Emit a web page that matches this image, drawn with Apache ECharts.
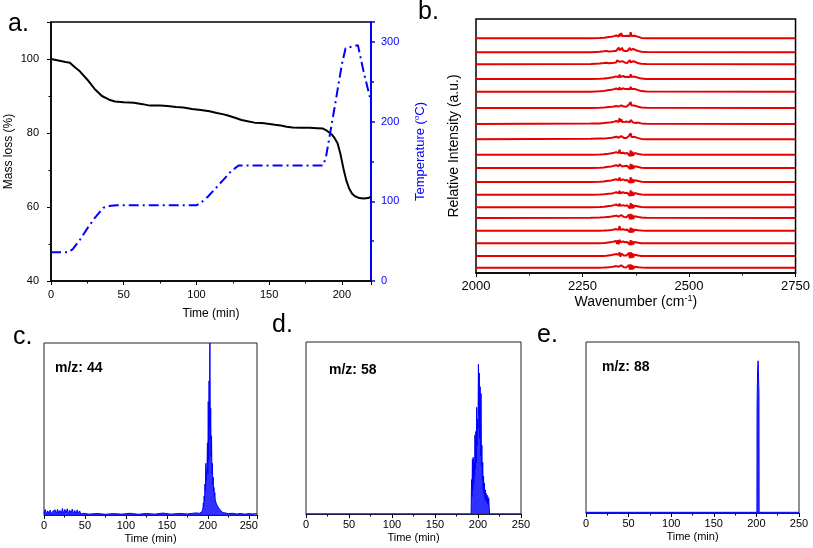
<!DOCTYPE html>
<html><head><meta charset="utf-8">
<script src="https://cdn.jsdelivr.net/npm/echarts@6/dist/echarts.min.js"></script>
<style>html,body{margin:0;padding:0;background:#fff}#c{width:813px;height:548px}</style>
</head><body><div id="c"></div>
<script>
// ---- Panel a: TGA ----
const massTime = [0, 5, 10, 13, 16, 20, 25, 30, 35, 40, 44, 50, 57, 63, 68, 75, 80, 86, 91, 97, 103, 109, 114, 118, 121, 126, 131, 136, 140, 145, 149, 154, 158, 162, 166, 172, 178, 183, 187, 189, 191, 193, 195, 197, 199, 201, 203, 205, 207, 209, 212, 215, 218, 220];
const massVal = [100, 99.6, 99.2, 99.0, 97.9, 96.6, 94.4, 91.9, 90.0, 89.0, 88.5, 88.3, 88.2, 87.8, 87.4, 87.4, 87.3, 87.0, 86.9, 86.5, 86.2, 85.9, 85.4, 85.1, 84.8, 84.2, 83.5, 83.1, 82.8, 82.7, 82.5, 82.2, 82.0, 81.7, 81.5, 81.4, 81.4, 81.3, 81.2, 80.8, 80.2, 79.6, 78.6, 77.2, 74.3, 70.5, 67.2, 65.0, 63.6, 62.9, 62.4, 62.3, 62.4, 62.8];
const tempTime = [0, 12, 15, 20, 25, 30, 36, 40, 45, 60, 80, 100, 103, 108, 112, 118, 124, 129, 150, 170, 187, 189, 195, 200, 202.5, 211, 215, 220];
const tempVal = [36, 36, 40, 52, 66, 79, 92, 94, 95, 95, 95, 95, 98, 106, 114, 126, 138, 145, 145, 145, 145, 155, 218, 272, 292, 296, 262, 225];

// ---- Panel b: FTIR spectra (top trace first) ----
const wavenumbers = [2000, 2270, 2290, 2300, 2306, 2311, 2315, 2318, 2321, 2324, 2327, 2329, 2331, 2333, 2335, 2337, 2339, 2341, 2343, 2345, 2347, 2350, 2353, 2355, 2357, 2359, 2361, 2363, 2365, 2367, 2369, 2372, 2376, 2381, 2388, 2400, 2750];
const traceOffsets = [234.7, 220.7, 208.7, 194, 181.3, 165, 149, 133.7, 118.3, 105, 91, 78.3, 65.7, 55, 42.3, 29.7, 17, 5.3];
const spectra = [
  [0,0,0.2,0.5,0.9,1.2,0.8,1.6,1.0,2.2,1.2,2.8,1.4,3.6,1.8,4.6,2.0,5.2,2.4,3.8,1.6,2.4,1.2,2.6,1.6,3.8,2.0,6.2,2.2,4.2,1.4,2.6,1.0,1.4,0.4,0,0],
  [0,0,0.6,1.0,1.4,0.8,1.6,1.0,2.0,1.2,2.4,1.4,3.0,1.6,4.8,2.0,3.6,2.2,4.4,1.8,3.0,1.4,2.4,1.2,2.8,1.6,4.4,2.2,3.6,1.8,3.4,1.6,2.0,1.2,0.6,0.2,0],
  [0,0.3,0.8,1.2,1.6,1.0,2.0,1.4,2.6,1.6,3.2,1.8,4.0,2.2,4.6,2.4,3.8,2.0,3.2,1.8,2.6,1.6,2.2,1.4,3.0,1.8,4.2,2.0,3.8,1.6,3.0,1.4,2.0,1.0,0.5,0.2,0],
  [0,0,0.2,0.4,0.8,1.0,0.6,1.4,0.8,2.0,1.0,2.6,1.2,3.2,1.6,4.4,1.8,3.6,2.0,3.0,1.4,2.0,1.0,2.2,1.4,3.2,1.8,4.6,2.0,3.6,1.2,2.4,0.8,1.2,0.4,0,0],
  [0,0,0.4,0.8,1.2,1.6,1.0,2.0,1.2,2.6,1.4,3.2,1.6,3.8,2.0,4.4,2.2,3.8,2.0,3.4,1.8,2.6,1.4,2.8,1.8,3.6,2.4,4.8,2.6,4.0,1.8,2.8,1.2,1.6,0.6,0.2,0],
  [0,0,0.2,0.4,0.7,1.0,0.7,1.2,0.9,1.6,1.1,2.0,1.2,2.2,1.4,2.4,1.5,2.6,1.6,2.4,1.4,2.0,1.2,2.2,1.6,3.4,2.2,6.0,2.6,3.6,1.6,2.4,1.0,1.2,0.5,0.2,0],
  [0,0.4,0.6,0.9,1.2,1.4,1.0,1.8,1.2,2.4,1.4,3.0,1.6,4.0,2.0,5.8,2.4,4.6,2.0,3.4,1.6,2.2,1.2,2.4,1.4,3.0,1.8,4.0,2.0,3.4,1.4,2.4,1.0,1.4,0.6,0.2,0],
  [0,0.5,0.8,0.9,1.1,1.3,0.9,1.6,1.0,2.0,1.2,2.6,1.4,3.0,1.6,3.6,1.8,3.2,1.8,2.8,1.4,2.2,1.2,2.6,1.6,3.4,2.0,6.0,2.4,3.8,1.4,2.4,0.9,1.2,0.4,0.1,0],
  [0,0,0.2,0.4,0.8,1.0,0.6,1.4,0.8,2.0,1.0,2.6,1.2,3.4,1.6,5.0,1.4,3.0,1.2,2.0,0.8,1.2,0.6,1.8,1.0,3.2,-1.4,4.2,-1.6,3.0,-0.8,1.6,0.4,0.8,0.2,0,0],
  [0,0,0.3,0.5,0.9,1.2,0.8,1.6,1.0,2.2,1.2,2.8,1.4,3.2,1.6,3.8,1.8,3.4,1.6,2.8,1.2,2.0,1.0,2.2,1.2,3.4,-1.0,4.0,-1.2,3.2,-0.6,1.8,0.6,1.0,0.3,0,0],
  [0,0,0.3,0.6,1.0,1.3,0.9,1.6,1.0,2.2,1.2,2.8,1.4,3.6,1.8,4.4,1.6,3.6,1.4,2.6,1.0,1.6,0.8,2.0,1.2,3.6,-0.8,4.8,-1.2,3.0,-0.6,1.8,0.6,1.0,0.3,0,0],
  [0,0,0.2,0.4,0.7,1.0,0.6,1.3,0.8,1.8,1.0,2.4,1.2,3.0,1.4,3.8,1.4,3.2,1.2,2.4,0.9,1.6,0.8,2.0,1.2,3.2,-1.2,4.4,-1.4,3.0,-0.8,1.6,0.5,0.8,0.2,0,0],
  [0,0,0.3,0.5,0.9,1.2,0.8,1.5,0.9,2.2,1.1,2.8,1.3,3.4,1.5,3.6,1.4,3.0,1.2,2.2,0.9,1.4,0.7,2.0,1.2,3.4,-1.0,4.2,-1.2,3.0,-0.6,1.6,0.5,0.9,0.3,0,0],
  [0,0.3,0.5,0.7,0.9,1.1,0.8,1.4,0.9,1.9,1.1,2.4,1.2,3.0,1.4,3.4,1.4,3.0,1.2,2.2,0.9,1.6,0.8,2.0,1.2,3.4,-1.2,4.2,-1.4,3.2,-0.8,1.8,0.6,1.0,0.4,0.3,0],
  [0,0,0,0.1,0.3,0.5,0.3,0.8,0.5,1.2,0.7,1.6,0.8,2.2,1.0,4.6,0.8,2.2,0.6,1.4,0.4,0.8,-0.6,1.2,0.6,2.4,-1.6,3.0,-2.0,2.2,-1.2,1.0,-0.4,0.4,0.1,0,0],
  [0,0,0,0.2,0.5,0.8,0.5,1.2,0.7,1.8,0.9,2.4,-0.8,3.2,-1.0,3.6,1.0,2.8,0.8,1.8,0.6,1.0,0.4,1.4,0.8,2.8,-1.6,3.2,-1.8,2.4,-1.0,1.2,0.3,0.5,0.1,0,0],
  [0,0,0,0.1,0.3,0.6,0.4,1.0,0.6,1.4,0.8,2.0,1.0,2.6,1.2,3.6,-0.8,2.6,0.8,1.6,0.5,1.0,0.4,1.6,0.8,3.2,-2.0,3.8,-2.2,2.8,-1.2,1.2,-0.4,0.5,0.1,0,0],
  [0,0,0,0.1,0.2,0.4,0.3,0.8,0.5,1.2,0.6,1.6,0.8,2.2,1.0,3.0,-0.8,2.4,0.7,1.4,0.4,0.9,0.3,1.4,0.6,2.8,-1.8,3.2,-2.0,2.4,-1.2,1.0,-0.4,0.4,0.1,0,0]
];

// ---- Panel c: m/z 44 ----
const cTime = [0, 1.5, 3, 4.5, 6, 7.5, 9, 10.5, 12, 13.5, 15, 16.5, 18, 19.5, 21, 22.5, 24, 25.5, 27, 28.5, 30, 31.5, 33, 34.5, 36, 37.5, 39, 40.5, 42, 43.5, 45, 48, 55, 65, 75, 85, 95, 105, 115, 125, 135, 145, 155, 165, 175, 185, 190,
  192, 193, 194, 194.5, 195, 195.5, 196, 196.5, 197, 197.5, 198, 198.5, 199, 199.5, 200, 200.5, 201, 201.5, 202, 202.5, 203, 203.5, 204, 204.5, 205, 205.5, 206, 206.5, 207, 207.5, 208, 208.5, 209, 209.5, 210, 211, 212, 213, 214, 216, 218, 220,
  225, 230, 235, 240, 245, 250, 255, 260];
const cVal = [1.0, 3.2, 0.6, 2.4, 0.8, 2.8, 0.5, 2.0, 1.2, 3.0, 0.6, 3.4, 1.0, 2.6, 0.8, 3.8, 0.7, 3.2, 1.2, 3.6, 0.6, 2.8, 1.0, 3.4, 0.8, 2.6, 0.6, 3.0, 0.9, 2.4, 0.5, 1.0, 0.5, 0.9, 0.4, 0.8, 0.5, 1.0, 0.4, 0.9, 0.5, 1.1, 0.5, 0.9, 0.6, 1.2, 1.0,
  1.2, 2, 4, 7, 5, 11, 8, 18, 14, 30, 20, 24, 28, 42, 24, 66, 32, 78, 50, 100, 44, 62, 34, 46, 24, 30, 18, 22, 14, 16, 11, 13, 9, 10, 7, 6, 5, 4, 3.5, 2.5, 1.5, 1.2,
  0.8, 1.0, 0.6, 0.9, 0.5, 0.8, 0.6, 0.8];

// ---- Panel d: m/z 58 ----
const dTime = [0, 192, 192.5, 193, 193.5, 194, 194.5, 195, 195.5, 196, 196.5, 197, 197.5, 198, 198.5, 199, 199.5, 200, 200.5, 201, 201.5, 202, 202.5, 203, 203.5, 204, 204.5, 205, 205.5, 206, 206.5, 207, 207.5, 208, 208.5, 209, 209.5, 210, 210.5, 211, 211.5, 212, 212.5, 213, 213.5, 250];
const dVal = [0, 0, 20, 10, 32, 14, 33, 18, 30, 22, 46, 26, 48, 30, 62, 40, 55, 50, 87, 58, 82, 44, 74, 34, 70, 28, 40, 20, 30, 14, 22, 12, 18, 9, 14, 8, 12, 7, 11, 6, 10, 5, 9, 4, 0, 0];

// ---- Panel e: m/z 88 ----
const eTime = [0, 200.6, 200.8, 201.4, 202.0, 202.6, 203.0, 203.2, 250];
const eVal = [0.4, 0.4, 64, 83, 89, 78, 70, 0.4, 0.4];

const FONT = '"Liberation Sans", Arial, sans-serif';
const chart = echarts.init(document.getElementById('c'), null, {renderer: 'canvas'});

function xAx(grid, min, max, opts) {
  return Object.assign({
    type: 'value', gridIndex: grid, min: min, max: max, interval: 50,
    axisLine: {show: true, onZero: false, lineStyle: {color: '#000', width: 1.5}},
    axisTick: {show: true, length: 4, lineStyle: {color: '#000', width: 1}},
    minorTick: {show: true, splitNumber: 2, length: 2.5, lineStyle: {color: '#000', width: 1}},
    axisLabel: {color: '#000', fontSize: 11, fontFamily: FONT, margin: 6},
    splitLine: {show: false},
    name: 'Time (min)', nameLocation: 'middle', nameGap: 18,
    nameTextStyle: {color: '#000', fontSize: 11, fontFamily: FONT}
  }, opts || {});
}
function yHidden(grid, min, max, opts) {
  return Object.assign({
    type: 'value', gridIndex: grid, min: min, max: max,
    axisLine: {show: false}, axisTick: {show: false}, axisLabel: {show: false},
    splitLine: {show: false}
  }, opts || {});
}

const series = [];
series.push({type: 'line', xAxisIndex: 0, yAxisIndex: 0, showSymbol: false, symbol: 'none',
  data: massTime.map((t, i) => [t, massVal[i]]), lineStyle: {color: '#000', width: 2}});
series.push({type: 'line', xAxisIndex: 0, yAxisIndex: 1, showSymbol: false, symbol: 'none',
  data: tempTime.map((t, i) => [t, tempVal[i]]), lineStyle: {color: '#0000ff', width: 2, type: [10, 4, 2, 4]}});
spectra.forEach((sp, k) => {
  series.push({type: 'line', xAxisIndex: 1, yAxisIndex: 2, showSymbol: false, symbol: 'none',
    data: wavenumbers.map((w, j) => [w, traceOffsets[k] + sp[j]]), lineStyle: {color: '#e60000', width: 2}});
});
[[cTime, cVal, 2, 3], [dTime, dVal, 3, 4], [eTime, eVal, 4, 5]].forEach(([tt, vv, xi, yi]) => {
  series.push({type: 'line', xAxisIndex: xi, yAxisIndex: yi, showSymbol: false, symbol: 'none',
    data: tt.map((t, i) => [t, vv[i]]), lineStyle: {color: '#0000ff', width: 1},
    areaStyle: {color: '#1a1aff', opacity: 0.9}});
});

const option = {
  animation: false,
  backgroundColor: '#fff',
  textStyle: {fontFamily: FONT},
  grid: [
    {left: 51, top: 22, width: 320, height: 259, show: true, borderColor: '#000', borderWidth: 1.5},
    {left: 476, top: 19, width: 321, height: 254, show: true, borderColor: '#000', borderWidth: 1.5},
    {left: 44, top: 343, width: 213, height: 172, show: true, borderColor: '#222', borderWidth: 1},
    {left: 306, top: 342, width: 215, height: 172, show: true, borderColor: '#222', borderWidth: 1},
    {left: 586, top: 342, width: 213, height: 171, show: true, borderColor: '#222', borderWidth: 1}
  ],
  xAxis: [
    xAx(0, 0, 220, {axisLabel: {color: '#000', fontSize: 11, fontFamily: FONT, margin: 8, showMaxLabel: false},
      nameGap: 27, nameTextStyle: {color: '#000', fontSize: 12, fontFamily: FONT}}),
    xAx(1, 2000, 2750, {interval: 250,
      axisLabel: {color: '#000', fontSize: 13, fontFamily: FONT, margin: 7, formatter: v => String(v)},
      name: '{n|Wavenumber (cm}{s|-1}{n|)}', nameGap: 18,
      nameTextStyle: {color: '#000', fontSize: 14, fontFamily: FONT,
        rich: {n: {fontSize: 14, fontFamily: FONT, color: '#000'}, s: {fontSize: 9, fontFamily: FONT, color: '#000', verticalAlign: 'bottom', padding: [0, 0, 7, 0]}}}}),
    xAx(2, 0, 260, {axisLine: {show: true, onZero: false, lineStyle: {color: '#222', width: 1}}, axisLabel: {color: '#000', fontSize: 11, fontFamily: FONT, margin: 5, showMaxLabel: false}}),
    xAx(3, 0, 250, {axisLine: {show: true, onZero: false, lineStyle: {color: '#222', width: 1}}, axisLabel: {color: '#000', fontSize: 11, fontFamily: FONT, margin: 5}}),
    xAx(4, 0, 250, {axisLine: {show: true, onZero: false, lineStyle: {color: '#222', width: 1}}, axisLabel: {color: '#000', fontSize: 11, fontFamily: FONT, margin: 5}})
  ],
  yAxis: [
    {type: 'value', gridIndex: 0, min: 40, max: 110, interval: 20, position: 'left',
      axisLine: {show: true, onZero: false, lineStyle: {color: '#000', width: 1.5}},
      axisTick: {show: true, length: 4, lineStyle: {color: '#000', width: 1}},
      minorTick: {show: true, splitNumber: 2, length: 2.5, lineStyle: {color: '#000'}},
      axisLabel: {color: '#000', fontSize: 11, fontFamily: FONT, margin: 12, showMaxLabel: false},
      splitLine: {show: false},
      name: 'Mass loss (%)', nameLocation: 'middle', nameGap: 36,
      nameTextStyle: {color: '#000', fontSize: 12, fontFamily: FONT}},
    {type: 'value', gridIndex: 0, min: 0, max: 325, interval: 100, position: 'right',
      axisLine: {show: true, onZero: false, lineStyle: {color: '#0000ff', width: 2}},
      axisTick: {show: true, length: 4, lineStyle: {color: '#0000ff', width: 1.5}},
      minorTick: {show: true, splitNumber: 2, length: 3, lineStyle: {color: '#0000ff', width: 1.5}},
      axisLabel: {color: '#0000ff', fontSize: 11, fontFamily: FONT, margin: 10, showMaxLabel: false},
      splitLine: {show: false},
      name: '{n|Temperature (}{s|o}{n|C)}', nameLocation: 'middle', nameGap: 42,
      nameTextStyle: {color: '#0000ff', fontSize: 13, fontFamily: FONT,
        rich: {n: {fontSize: 13, fontFamily: FONT, color: '#0000ff'}, s: {fontSize: 8, fontFamily: FONT, color: '#0000ff', verticalAlign: 'bottom', padding: [0, 0, 6, 0]}}}},
    yHidden(1, 0, 254, {name: 'Relative Intensity (a.u.)', nameLocation: 'middle', nameGap: 15,
      nameTextStyle: {color: '#000', fontSize: 14, fontFamily: FONT}}),
    yHidden(2, 0, 100),
    yHidden(3, 0, 100),
    yHidden(4, 0, 100)
  ],
  graphic: [
    {type: 'text', x: 8, y: 24, style: {text: 'a.', font: '25px ' + FONT, fill: '#000', verticalAlign: 'middle'}},
    {type: 'text', x: 418, y: 12, style: {text: 'b.', font: '25px ' + FONT, fill: '#000', verticalAlign: 'middle'}},
    {type: 'text', x: 13, y: 337, style: {text: 'c.', font: '25px ' + FONT, fill: '#000', verticalAlign: 'middle'}},
    {type: 'text', x: 272, y: 325, style: {text: 'd.', font: '25px ' + FONT, fill: '#000', verticalAlign: 'middle'}},
    {type: 'text', x: 537, y: 335, style: {text: 'e.', font: '25px ' + FONT, fill: '#000', verticalAlign: 'middle'}},
    {type: 'text', x: 55, y: 368, style: {text: 'm/z: 44', font: 'bold 14px ' + FONT, fill: '#000', verticalAlign: 'middle'}},
    {type: 'text', x: 329, y: 370, style: {text: 'm/z: 58', font: 'bold 14px ' + FONT, fill: '#000', verticalAlign: 'middle'}},
    {type: 'text', x: 602, y: 367, style: {text: 'm/z: 88', font: 'bold 14px ' + FONT, fill: '#000', verticalAlign: 'middle'}}
  ],
  series: series
};
chart.setOption(option);
</script>
</body></html>
